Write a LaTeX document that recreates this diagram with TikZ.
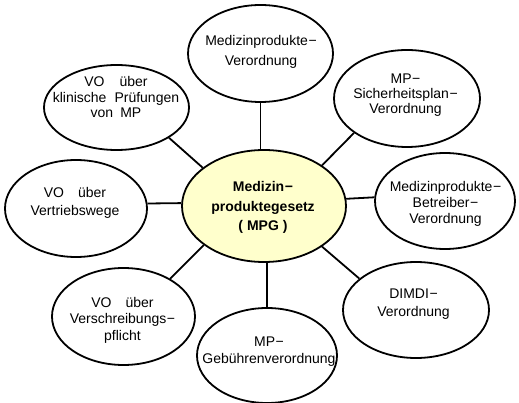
\documentclass[tikz,border=0pt]{standalone}
\usepackage{fontspec}
\setmainfont{Liberation Sans}
\usetikzlibrary{shapes.geometric}
\definecolor{centerfill}{RGB}{255,255,204}
\newcommand{\dsh}{\hspace{0.6pt}−}
\tikzset{
  ell/.style={draw=black, ellipse, line width=1.8pt, inner sep=0pt, fill=white},
  conn/.style={draw=black, line width=1.8pt},
  lbl/.style={align=center, inner sep=0pt, font=\fontsize{14}{16}\selectfont},
}
\begin{document}
\begin{tikzpicture}[x=1pt, y=-1pt]
\useasboundingbox (0,0) rectangle (519,403);
% ellipses
\node[ell, fill=centerfill, minimum width=164pt, minimum height=112pt] (C) at (264,206) {};
\node[ell, minimum width=145pt, minimum height=97pt] (top) at (260.5,53.5) {};
\node[ell, minimum width=146pt, minimum height=97pt] (sich) at (407,98.5) {};
\node[ell, minimum width=145pt, minimum height=85pt] (klin) at (116.5,107.5) {};
\node[ell, minimum width=142pt, minimum height=97pt] (vert) at (76,208.5) {};
\node[ell, minimum width=140pt, minimum height=96pt] (betr) at (445,201) {};
\node[ell, minimum width=146pt, minimum height=96pt] (dimdi) at (416,310) {};
\node[ell, minimum width=143pt, minimum height=97pt] (versch) at (123.5,316.5) {};
\node[ell, minimum width=140pt, minimum height=95pt] (geb) at (267,355.5) {};
% connectors
\draw[conn] (top.south) -- (top.south |- C.north);
\draw[conn] (geb.north) -- (geb.north |- C.south);
\draw[conn] (vert.4) -- (C.178);
\draw[conn] (betr.177.5) -- (C.5.6);
\draw[conn] (klin.-30) -- (C.148.6);
\draw[conn] (sich.213.6) -- (C.35.3);
\draw[conn] (dimdi.151.6) -- (C.-35.3);
\draw[conn] (versch.39.6) -- (C.213.5);
% texts
\node[lbl, font=\bfseries\fontsize{14}{19.5}\selectfont] (tC) at (263,207.5) {Medizin\dsh\\produktegesetz\\(\hspace{4pt}MPG\hspace{4pt})};
\node[lbl, font=\fontsize{14}{19.5}\selectfont] (ttop) at (261,52) {Medizinprodukte\dsh\\Verordnung};
\node[lbl, font=\fontsize{14}{15}\selectfont] (tsich) at (405.5,95) {MP\dsh\\Sicherheitsplan\dsh\\Verordnung};
\node[lbl, font=\fontsize{14}{15.5}\selectfont] (tklin) at (116,97) {VO\hspace{15pt}über\\klinische\hspace{8pt}Prüfungen\\von\hspace{7pt}MP};
\node[lbl, font=\fontsize{14}{18}\selectfont] (tvert) at (75,203) {VO\hspace{14pt}über\\Vertriebswege};
\node[lbl, font=\fontsize{14}{16}\selectfont] (tbetr) at (445.5,204) {Medizinprodukte\dsh\\Betreiber\dsh\\Verordnung};
\node[lbl, font=\fontsize{14}{18}\selectfont] (tdimdi) at (413.5,304) {DIMDI\dsh\\Verordnung};
\node[lbl, font=\fontsize{14}{16.5}\selectfont] (tversch) at (122.5,320) {VO\hspace{14pt}über\\Verschreibungs\dsh\\pflicht};
\node[lbl, font=\fontsize{14}{17}\selectfont] (tgeb) at (269,351.5) {MP\dsh\\Gebührenverordnung};
\end{tikzpicture}
\end{document}
